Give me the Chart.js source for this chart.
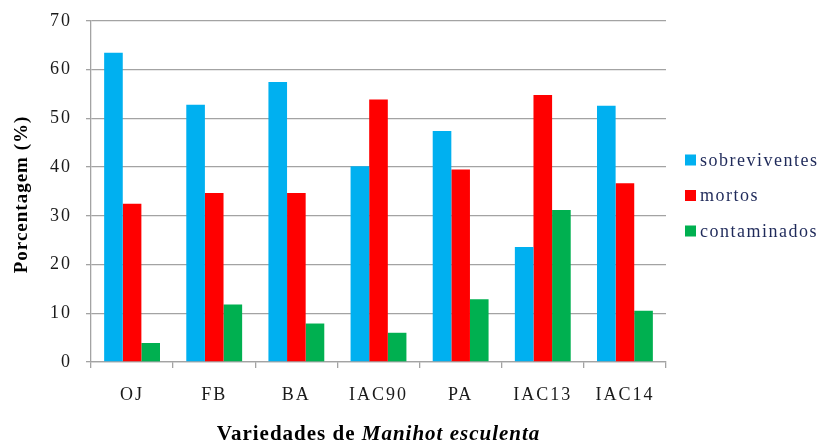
<!DOCTYPE html>
<html>
<head>
<meta charset="utf-8">
<script src="https://cdn.jsdelivr.net/npm/chart.js@4"></script>
<style>
  html, body { margin: 0; padding: 0; background: #fff; }
  #wrap { width: 820px; height: 441px; }
</style>
</head>
<body>
<div id="wrap"><canvas id="c" width="820" height="441"></canvas></div>
<script>
// Varieties of cassava and the outcome percentages for each
const categories = ['OJ', 'FB', 'BA', 'IAC90', 'PA', 'IAC13', 'IAC14'];
const sobreviventes = [63.5, 52.8, 57.5, 40.2, 47.4, 23.6, 52.6];
const mortos = [32.5, 34.7, 34.7, 53.9, 39.5, 54.8, 36.7];
const contaminados = [3.9, 11.8, 7.9, 6.0, 12.9, 31.2, 10.5];
const yTicks = [0, 10, 20, 30, 40, 50, 60, 70];

const SERIF = '"Liberation Serif", "Times New Roman", serif';
const GRID = '#a3a3a3';

// Wider letter spacing for the axis tick labels
const spacing = {
  id: 'spacing',
  beforeDraw(chart) { chart.ctx.letterSpacing = '2px'; },
  afterDraw(chart) { chart.ctx.letterSpacing = '0px'; }
};

// Legend drawn to the right of the plot area
const sideLegend = {
  id: 'sideLegend',
  afterDraw(chart) {
    const { ctx, chartArea } = chart;
    ctx.save();
    ctx.letterSpacing = '1.5px';
    ctx.font = '18px ' + SERIF;
    ctx.textBaseline = 'middle';
    ctx.textAlign = 'left';
    const x0 = chartArea.right + 19;
    chart.data.datasets.forEach((ds, i) => {
      const y = 160 + i * 35.5;
      ctx.fillStyle = ds.backgroundColor;
      ctx.fillRect(x0, y - 5.5, 11, 11);
      ctx.fillStyle = '#1f2a5a';
      ctx.fillText(ds.label, x0 + 15, y + 1);
    });
    ctx.restore();
  }
};

// Axis titles; the species name on the x axis is in italics
const axisTitles = {
  id: 'axisTitles',
  afterDraw(chart) {
    const { ctx, chartArea } = chart;
    ctx.save();
    ctx.fillStyle = '#000';
    ctx.letterSpacing = '1px';

    // y title, rotated
    ctx.font = 'bold 19px ' + SERIF;
    ctx.textAlign = 'center';
    ctx.textBaseline = 'middle';
    ctx.save();
    ctx.translate(22, (chartArea.top + chartArea.bottom) / 2 + 3);
    ctx.rotate(-Math.PI / 2);
    ctx.fillText('Porcentagem (%)', 0, 0);
    ctx.restore();

    // x title
    const a = 'Variedades de ';
    const b = 'Manihot esculenta';
    ctx.textBaseline = 'alphabetic';
    ctx.textAlign = 'left';
    ctx.font = 'bold 21px ' + SERIF;
    const wa = ctx.measureText(a).width;
    ctx.font = 'italic bold 21px ' + SERIF;
    const wb = ctx.measureText(b).width;
    const cx = (chartArea.left + chartArea.right) / 2;
    const x = cx - (wa + wb) / 2;
    const y = 440;
    ctx.font = 'bold 21px ' + SERIF;
    ctx.fillText(a, x, y);
    ctx.font = 'italic bold 21px ' + SERIF;
    ctx.fillText(b, x + wa, y);
    ctx.restore();
  }
};

new Chart(document.getElementById('c'), {
  type: 'bar',
  data: {
    labels: categories,
    datasets: [
      { label: 'sobreviventes', data: sobreviventes, backgroundColor: '#00b0f0' },
      { label: 'mortos', data: mortos, backgroundColor: '#ff0000' },
      { label: 'contaminados', data: contaminados, backgroundColor: '#00b050' }
    ]
  },
  options: {
    responsive: false,
    animation: false,
    devicePixelRatio: 1,
    layout: { padding: { top: 21, right: 154, bottom: 0, left: 0 } },
    datasets: { bar: { categoryPercentage: 0.68, barPercentage: 1.0, borderWidth: 0 } },
    plugins: {
      legend: { display: false },
      tooltip: { enabled: false }
    },
    scales: {
      x: {
        afterFit(s) { s.height = 79; s.paddingLeft = 0; s.paddingRight = 0; },
        grid: { offset: true, drawOnChartArea: false, drawTicks: true, tickLength: 6, color: GRID, lineWidth: 1.3 },
        border: { display: true, color: GRID, width: 1.3 },
        ticks: { font: { family: SERIF, size: 18 }, color: '#1a1a1a', padding: 16 }
      },
      y: {
        min: 0,
        max: 70,
        afterFit(s) { s.width = 91; s.paddingTop = 0; s.paddingBottom = 0; },
        afterBuildTicks(s) { s.ticks = yTicks.map(v => ({ value: v })); },
        grid: { color: GRID, lineWidth: 1.3, tickLength: 5 },
        border: { display: true, color: GRID, width: 1.3 },
        ticks: { font: { family: SERIF, size: 18 }, color: '#1a1a1a', padding: 14 }
      }
    }
  },
  plugins: [spacing, sideLegend, axisTitles]
});
</script>
</body>
</html>
